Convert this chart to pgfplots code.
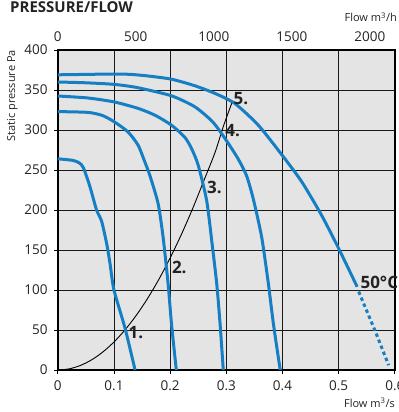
\documentclass[border=0pt]{standalone}
\usepackage{fontspec}
\setmainfont{Open Sans}
\usepackage{pgfplots}
\pgfplotsset{compat=1.18}
\definecolor{curveblue}{RGB}{22,127,196}
\definecolor{bggray}{RGB}{228,228,228}
\definecolor{txt}{RGB}{35,35,35}
\newcommand\tickfont{\fontsize{13.5bp}{16bp}\selectfont}
\newcommand\lblfont{\fontsize{11bp}{13bp}\selectfont}
\newcommand\numfont{\bfseries\fontsize{17bp}{20bp}\selectfont}
\begin{document}
\begin{tikzpicture}
\path[use as bounding box] (-57.8bp,-42bp) rectangle (341.2bp,370bp);
\begin{axis}[
  at={(0bp,0bp)}, anchor=south west,
  scale only axis, width=337bp, height=320bp,
  xmin=0, xmax=0.6, ymin=0, ymax=400,
  clip=false,
  axis background/.style={fill=bggray},
  xtick={0,0.1,0.2,0.3,0.4,0.5,0.6},
  xticklabels={0,0.1,0.2,0.3,0.4,0.5,0.6},
  ytick={0,50,100,150,200,250,300,350,400},
  /pgf/number format/assume math mode=true,
  grid=major,
  major grid style={black!90, line width=0.7bp},
  axis line style={black, line width=1.6bp},
  tick align=outside, major tick length=4bp,
  tick style={black, line width=0.8bp},
  xtick pos=lower, ytick pos=left,
  xticklabel style={font=\tickfont, text=txt, inner sep=0pt, anchor=north, yshift=-7bp},
  yticklabel style={font=\tickfont, text=txt, inner sep=0pt, anchor=east, xshift=-6bp},
]
% system curve
\addplot[black, line width=0.9bp, smooth] coordinates {
(0,0) (0.02,1.4) (0.04,5.6) (0.06,12.6) (0.08,22.4) (0.1,35) (0.12,50.4)
(0.14,68.6) (0.16,89.6) (0.18,113.4) (0.2,140) (0.22,169.4) (0.24,201.6)
(0.26,236.6) (0.28,272) (0.295,305) (0.31,334)};
% curve 1
\addplot[curveblue, line width=3bp, smooth, tension=0.4] coordinates {
(0,264) (0.027,262) (0.038,259) (0.0455,253) (0.0573,229) (0.069,200) (0.078,186)
(0.087,158) (0.093,133) (0.1,100) (0.1198,52) (0.1376,0)};
% curve 2
\addplot[curveblue, line width=3bp, smooth, tension=0.4] coordinates {
(0,323) (0.054,322) (0.08,318) (0.101,310) (0.125,297.6) (0.143,281) (0.155,260)
(0.164,243) (0.1786,208) (0.1875,166) (0.1964,107.5) (0.2025,57) (0.211,0)};
% curve 3
\addplot[curveblue, line width=3bp, smooth, tension=0.4] coordinates {
(0,342.5) (0.054,340) (0.101,335) (0.143,327) (0.173,318.5) (0.2025,306)
(0.226,291) (0.238,277) (0.25,256) (0.265,212) (0.274,162) (0.283,107.5)
(0.289,57) (0.2946,0)};
% curve 4
\addplot[curveblue, line width=3bp, smooth, tension=0.4] coordinates {
(0,360) (0.05,359) (0.101,357) (0.143,352.8) (0.2025,342.7) (0.244,329)
(0.276,310) (0.3,287) (0.321,264) (0.336,243) (0.348,214) (0.363,166)
(0.375,107.5) (0.384,57) (0.396,0)};
% curve 5
\addplot[curveblue, line width=3bp, smooth, tension=0.4] coordinates {
(0,369) (0.05,369.5) (0.1,370) (0.13,369.5) (0.161,367.5) (0.2025,363.5)
(0.244,355.3) (0.28,345.7) (0.3155,333) (0.357,306) (0.4,268) (0.4346,235)
(0.47,193) (0.5,152) (0.533,104)};
\addplot[curveblue, line width=3bp, dash pattern=on 3.5bp off 3bp] coordinates {
(0.5357,98) (0.5655,48) (0.589,6)};
\node[anchor=base west, inner sep=0pt, font=\numfont, text=txt] at (axis cs:0.1257,40) {1.};
\node[anchor=base west, inner sep=0pt, font=\numfont, text=txt] at (axis cs:0.203,121) {2.};
\node[anchor=base west, inner sep=0pt, font=\numfont, text=txt] at (axis cs:0.2654,221) {3.};
\node[anchor=base west, inner sep=0pt, font=\numfont, text=txt] at (axis cs:0.298,291.6) {4.};
\node[anchor=base west, inner sep=0pt, font=\numfont, text=txt] at (axis cs:0.3128,332) {5.};
\node[anchor=base west, inner sep=0pt, font=\numfont, text=txt] at (axis cs:0.5387,102.5) {50°C};
\end{axis}
\begin{axis}[
  at={(0bp,0bp)}, anchor=south west,
  scale only axis, width=337bp, height=320bp,
  xmin=0, xmax=2160, ymin=0, ymax=400,
  axis x line*=top, hide y axis,
  axis line style={black, line width=1.6bp},
  xtick={0,500,1000,1500,2000},
  major tick length=0pt,
  /pgf/number format/assume math mode=true,
  /pgf/number format/1000 sep={},
  xticklabel style={font=\tickfont, text=txt, inner sep=0pt, anchor=south, yshift=8bp},
]
\addplot[draw=none] coordinates {(0,0)};
\end{axis}
\node[anchor=base west, inner sep=0pt, font=\bfseries\fontsize{15bp}{18bp}\selectfont, text=txt] at (-47.8bp,357.3bp) {PRESSURE/FLOW};
\node[anchor=base east, inner sep=0pt, font=\lblfont, text=txt] at (339.2bp,348bp) {Flow m\textsuperscript{3}/h};
\node[anchor=base east, inner sep=0pt, font=\lblfont, text=txt] at (337.2bp,-37bp) {Flow m\textsuperscript{3}/s};
\node[anchor=east, rotate=90, inner sep=0pt, font=\lblfont, text=txt] at (-45.3bp,320bp) {Static pressure Pa};
\end{tikzpicture}
\end{document}
